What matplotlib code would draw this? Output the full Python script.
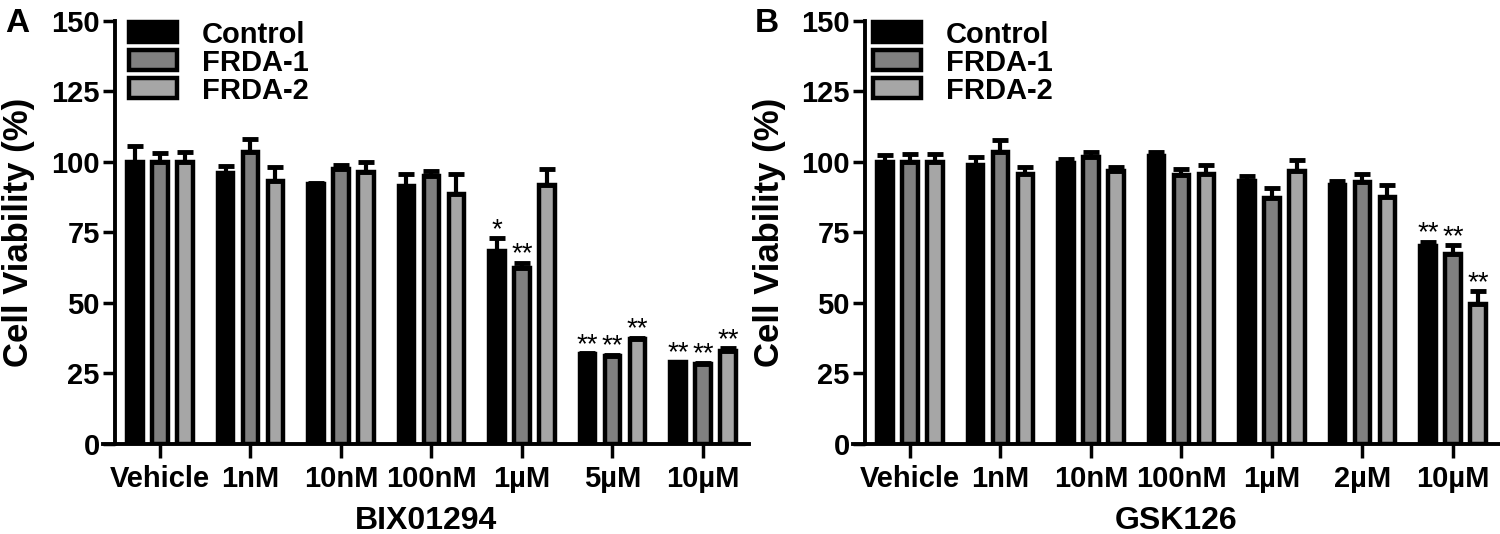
import matplotlib
matplotlib.use("Agg")
import matplotlib.pyplot as plt
import numpy as np

plt.rcParams['font.family'] = ['Liberation Sans', 'DejaVu Sans']
plt.rcParams['font.weight'] = 'bold'
plt.rcParams['axes.labelweight'] = 'bold'

groups = ['Control', 'FRDA-1', 'FRDA-2']
colors = ['#000000', '#808080', '#a6a6a6']

# panel A - BIX01294
doses_a = ['Vehicle', '1nM', '10nM', '100nM', '1µM', '5µM', '10µM']
ctrl_a = [100, 96, 92, 91.5, 68.5, 31.7, 28.8]
ctrl_a_err = [5.5, 2.5, 0.3, 4.0, 4.3, 0.4, 0.3]
frda1_a = [100, 103.5, 97.5, 95, 62.3, 31.1, 28.3]
frda1_a_err = [3.0, 4.5, 1.5, 1.8, 1.8, 0.5, 0.4]
frda2_a = [100, 93, 96.5, 88.5, 91.7, 37, 32.8]
frda2_a_err = [3.5, 5.0, 3.5, 7.0, 5.8, 0.6, 1.0]
stars_ctrl_a = ['', '', '', '', '*', '**', '**']
stars_frda1_a = ['', '', '', '', '**', '**', '**']
stars_frda2_a = ['', '', '', '', '', '**', '**']

# panel B - GSK126
doses_b = ['Vehicle', '1nM', '10nM', '100nM', '1µM', '2µM', '10µM']
ctrl_b = [100, 99, 99.7, 102, 93, 91.8, 70.1]
ctrl_b_err = [2.5, 2.6, 1.2, 1.3, 1.8, 1.5, 1.4]
frda1_b = [100, 103.5, 101.8, 95.2, 87, 92.7, 67.1]
frda1_b_err = [2.7, 4.3, 1.8, 2.2, 3.6, 3.0, 3.3]
frda2_b = [100, 95.5, 96.7, 95.7, 96.7, 87.6, 49.6]
frda2_b_err = [2.7, 2.6, 1.4, 3.0, 3.8, 4.0, 4.5]
stars_ctrl_b = ['', '', '', '', '', '', '**']
stars_frda1_b = ['', '', '', '', '', '', '**']
stars_frda2_b = ['', '', '', '', '', '', '**']

yticks = [0, 25, 50, 75, 100, 125, 150]

fig = plt.figure(figsize=(15, 5.34), dpi=100)
W, H = 1500, 534


def draw_panel(left_px, doses, means, errs, stars, xlabel, letter, leg_dx):
    ax = fig.add_axes([left_px / W, (H - 443.7) / H, 646 / W, 423 / H])
    x = np.arange(len(doses))
    step = 0.276
    handles = []
    for i in range(3):
        xi = x + (i - 1) * step
        b = ax.bar(xi, means[i], width=0.17, color=colors[i], edgecolor='black',
                   linewidth=3.2, zorder=2, label=groups[i])
        handles.append(b)
        ax.errorbar(xi, means[i], yerr=[np.zeros(len(doses)), errs[i]], fmt='none',
                    ecolor='black', elinewidth=3, capsize=6, capthick=3.5, zorder=3)
        for xx, m, e, s in zip(xi, means[i], errs[i], stars[i]):
            if s:
                ax.annotate(s, (xx, m + e), xytext=(0, 1), textcoords='offset points',
                            ha='center', va='baseline', fontsize=20, fontweight='normal')
    ax.set_xlim(-0.63, 6.51)
    ax.set_ylim(0, 150)
    ax.set_yticks(yticks)
    ax.set_xticks(x)
    ax.set_xticklabels(doses)
    for sp in ['top', 'right']:
        ax.spines[sp].set_visible(False)
    ax.spines['left'].set_position(('data', -0.497))
    ax.spines['left'].set_linewidth(2.8)
    ax.spines['bottom'].set_linewidth(2.8)
    ax.tick_params(axis='y', length=9, width=2.5, pad=2, labelsize=21)
    ax.tick_params(axis='x', length=10, width=2.5, pad=5, labelsize=21)
    ax.set_xlabel(xlabel, fontsize=23, labelpad=10)
    ax.legend(handles=handles, loc='upper left', bbox_to_anchor=(leg_dx, 1.0),
              frameon=False, fontsize=21, handlelength=1.65, handleheight=0.68,
              labelspacing=0.0, handletextpad=0.85, borderpad=0, borderaxespad=0)
    fig.text((left_px - 84) / W, (H - 232) / H, 'Cell Viability (%)', rotation=90,
             ha='center', va='center', fontsize=25)
    fig.text((left_px - 98) / W, (H - 8) / H, letter, ha='left', va='top', fontsize=24)
    return ax


draw_panel(103, doses_a, [ctrl_a, frda1_a, frda2_a], [ctrl_a_err, frda1_a_err, frda2_a_err],
           [stars_ctrl_a, stars_frda1_a, stars_frda2_a], 'BIX01294', 'A', 0.040)
draw_panel(853, doses_b, [ctrl_b, frda1_b, frda2_b], [ctrl_b_err, frda1_b_err, frda2_b_err],
           [stars_ctrl_b, stars_frda1_b, stars_frda2_b], 'GSK126', 'B', 0.031)

fig.savefig('out.png', dpi=100)
